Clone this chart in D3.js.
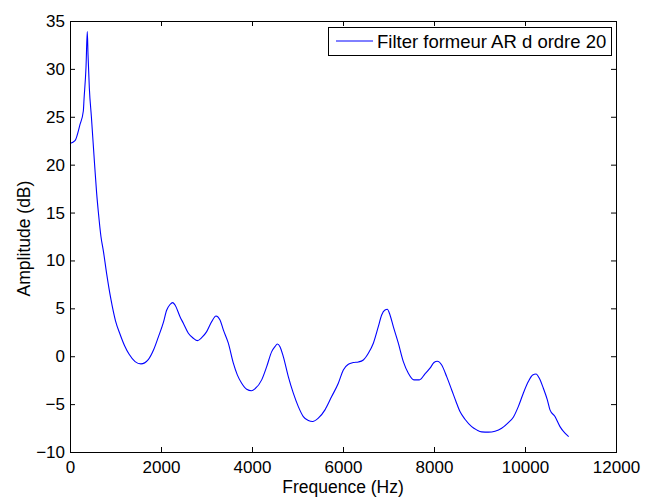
<!DOCTYPE html>
<html>
<head>
<meta charset="utf-8">
<script src="https://cdn.jsdelivr.net/npm/d3@7"></script>
<style>
  html, body { margin: 0; padding: 0; background: #fff; }
  svg { display: block; }
  text { font-family: "Liberation Sans", Arial, sans-serif; fill: #000; }
</style>
</head>
<body>
<svg id="chart" width="656" height="498"></svg>
<script>
const seriesName = "Filter formeur AR d ordre 20";
const xTicks = [0, 2000, 4000, 6000, 8000, 10000, 12000];
const yTicks = [-10, -5, 0, 5, 10, 15, 20, 25, 30, 35];
const xLabel = "Frequence (Hz)";
const yLabel = "Amplitude (dB)";

const freq = [0, 110, 220, 293, 308, 352, 380, 396, 425, 470, 541, 586, 624, 680, 733, 806, 901,
  1000, 1100, 1200, 1300, 1430, 1560, 1720, 1840, 1941, 2051, 2124, 2198, 2256, 2308, 2418, 2491,
  2601, 2711, 2799, 2894, 3004, 3114, 3209, 3297, 3370, 3480, 3590, 3677, 3773, 3883, 3990, 4066,
  4213, 4323, 4433, 4505, 4557, 4615, 4688, 4798, 4908, 5018, 5128, 5238, 5333, 5457, 5604, 5751,
  5897, 6007, 6117, 6227, 6337, 6447, 6557, 6667, 6776, 6850, 6923, 6974, 7033, 7106, 7216, 7326,
  7436, 7560, 7678, 7802, 7912, 8000, 8073, 8169, 8279, 8389, 8481, 8571, 8681, 8828, 8938, 9048,
  9194, 9341, 9487, 9634, 9743, 9853, 9963, 10073, 10169, 10242, 10315, 10403, 10491, 10549, 10659,
  10769, 10879, 10960];

const amplitude = [22.2, 22.5, 24.2, 25.6, 26.8, 30.2, 33.9, 31.5, 28.0, 25.0, 20.0, 17.0, 15.0, 12.5, 11.0, 8.6, 5.9,
  3.7, 2.3, 1.1, 0.2, -0.56, -0.8, -0.35, 0.7, 2.0, 3.5, 4.8, 5.4, 5.6, 5.35, 4.13, 3.44,
  2.4, 1.88, 1.63, 1.94, 2.57, 3.61, 4.2, 3.79, 2.75, 1.36, -0.73, -1.95, -2.82, -3.44, -3.6, -3.4,
  -2.47, -1.09, 0.48, 1.0, 1.28, 1.0, -0.04, -2.13, -3.86, -5.26, -6.3, -6.72, -6.82, -6.47, -5.6, -4.21,
  -2.82, -1.43, -0.84, -0.66, -0.6, -0.39, 0.31, 1.36, 3.09, 4.31, 4.83, 4.9, 4.31, 3.09, 1.36, -0.56,
  -1.77, -2.47, -2.47, -1.85, -1.25, -0.66, -0.52, -0.91, -2.13, -3.52, -4.7, -5.78, -6.58, -7.35, -7.69, -7.9,
  -7.93, -7.83, -7.52, -6.93, -6.37, -5.26, -3.86, -2.65, -1.95, -1.85, -2.3, -3.34, -4.56, -5.6, -6.3,
  -7.35, -8.04, -8.39];

const svg = d3.select("#chart");
const W = 656, H = 498;
const m = { left: 70, right: 40, top: 21, bottom: 46 };
const x0 = m.left, x1 = W - m.right, y0 = m.top, y1 = H - m.bottom;

svg.append("rect").attr("width", W).attr("height", H).attr("fill", "#fff");

const x = d3.scaleLinear().domain([0, 12000]).range([x0, x1]);
const y = d3.scaleLinear().domain([-10, 35]).range([y1, y0]);

const data = freq.map((f, i) => ({ f, a: amplitude[i] }));

const line = d3.line().x(d => x(d.f)).y(d => y(d.a)).curve(d3.curveMonotoneX);

svg.append("path").datum(data)
  .attr("d", line)
  .attr("fill", "none")
  .attr("stroke", "#0000ff")
  .attr("stroke-width", 1.1);

const tickFs = 17, labelFs = 17.5, legendFs = 18.5, tl = 5;
// Axes
const gB = svg.append("g").attr("transform", `translate(0,${y1})`)
  .call(d3.axisBottom(x).tickValues(xTicks).tickSize(-tl).tickFormat(d3.format("d")));
const gT = svg.append("g").attr("transform", `translate(0,${y0})`)
  .call(d3.axisTop(x).tickValues(xTicks).tickSize(-tl).tickFormat(""));
const gL = svg.append("g").attr("transform", `translate(${x0},0)`)
  .call(d3.axisLeft(y).tickValues(yTicks).tickSize(-tl).tickPadding(5).tickFormat(d3.format("d")));
const gR = svg.append("g").attr("transform", `translate(${x1},0)`)
  .call(d3.axisRight(y).tickValues(yTicks).tickSize(-tl).tickFormat(""));

[gB, gT, gL, gR].forEach(g => {
  g.select(".domain").remove();
  g.selectAll(".tick line").attr("stroke", "#000");
  g.selectAll("text").attr("font-size", tickFs).attr("font-family", '"Liberation Sans", Arial, sans-serif').attr("fill", "#000");
});
gB.selectAll("text").attr("dy", null).attr("y", 20.5);

svg.append("rect")
  .attr("x", x0 + 0.5).attr("y", y0 + 0.5)
  .attr("width", x1 - x0).attr("height", y1 - y0)
  .attr("fill", "none").attr("stroke", "#000").attr("stroke-width", 1);

svg.append("text").attr("x", (x0 + x1) / 2).attr("y", 493)
  .attr("text-anchor", "middle").attr("font-size", labelFs).text(xLabel);
svg.append("text").attr("transform", `translate(30,${(y0 + y1) / 2 + 2}) rotate(-90)`)
  .attr("text-anchor", "middle").attr("font-size", labelFs).text(yLabel);

// Legend
const lg = svg.append("g");
lg.append("rect").attr("x", 328.5).attr("y", 27.5).attr("width", 283).attr("height", 28)
  .attr("fill", "#fff").attr("stroke", "#000").attr("stroke-width", 1);
lg.append("line").attr("x1", 336).attr("x2", 373).attr("y1", 41).attr("y2", 41)
  .attr("stroke", "#0000ff").attr("stroke-width", 1);
lg.append("text").attr("x", 377).attr("y", 48).attr("font-size", legendFs).text(seriesName);
</script>
</body>
</html>
